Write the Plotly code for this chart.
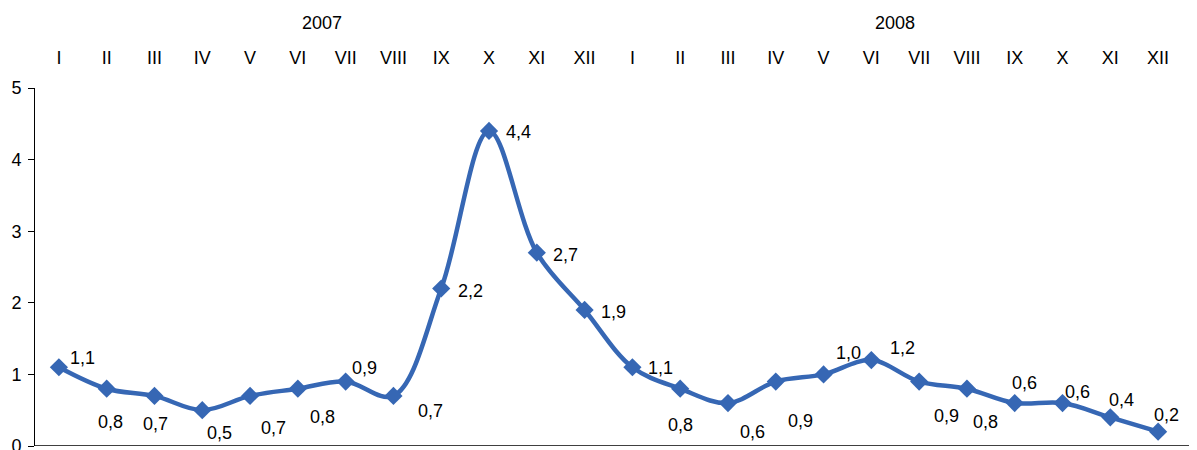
import plotly.graph_objects as go

months = ["I", "II", "III", "IV", "V", "VI", "VII", "VIII", "IX", "X", "XI", "XII"]
years = ["2007", "2008"]
values_2007 = [1.1, 0.8, 0.7, 0.5, 0.7, 0.8, 0.9, 0.7, 2.2, 4.4, 2.7, 1.9]
values_2008 = [1.1, 0.8, 0.6, 0.9, 1.0, 1.2, 0.9, 0.8, 0.6, 0.6, 0.4, 0.2]
y_ticks = [0, 1, 2, 3, 4, 5]

values = values_2007 + values_2008
tick_labels = months + months
xs = list(range(len(values)))

# label pixel offsets (styling), per point: (dx, dy down)
label_offsets = [
    (24, -9), (4, 33), (1, 28), (17, 23), (23, 32), (25, 28), (19, -14), (37, 15),
    (29, 3), (29, 1), (29, 2), (29, 2), (28, 1), (0, 36), (25, 29), (25, 39),
    (25, -21), (31, -12), (27, 34), (19, 33), (10, -20), (15, -11), (11, -17), (8, -17),
]

color = "#3667B4"
font = dict(family="Arial", size=18, color="#000000")

fig = go.Figure()
fig.add_trace(go.Scatter(
    x=xs, y=values, mode="lines+markers",
    line=dict(color=color, width=4.5, shape="spline", smoothing=1.0),
    marker=dict(symbol="diamond", size=14, color=color),
    hoverinfo="skip", showlegend=False, cliponaxis=False,
))

annotations = []
for i, v in enumerate(values):
    dx, dy = label_offsets[i]
    annotations.append(dict(
        x=xs[i], y=v, xref="x", yref="y", text=f"{v:.1f}".replace(".", ","),
        showarrow=False, xshift=dx, yshift=-dy, font=font,
    ))
for k, yr in enumerate(years):
    annotations.append(dict(
        x=k * 12 + 5.5, y=1, xref="x", yref="paper", yshift=65, yanchor="middle",
        text=yr, showarrow=False, font=font,
    ))

# page body has an 8px margin, so the figure is 8px smaller and its margins shifted
fig.update_layout(
    width=1189, height=442,
    margin=dict(l=27, r=15, t=80, b=4, autoexpand=False),
    paper_bgcolor="white", plot_bgcolor="white",
    font=font,
    annotations=annotations,
    xaxis=dict(
        side="top", tickmode="array", tickvals=xs, ticktext=tick_labels,
        range=[-0.5, 23.5], showgrid=False, zeroline=False, showline=False,
        ticks="", ticklabelstandoff=19, tickfont=font, automargin=False,
    ),
    yaxis=dict(
        range=[0, 5], tickvals=y_ticks, ticktext=[str(t) for t in y_ticks],
        showgrid=False, zeroline=False, showline=True, linecolor="#000000", linewidth=1,
        ticks="outside", ticklen=6, tickcolor="#000000", tickfont=font, automargin=False,
        ticklabelstandoff=3, ticklabeloverflow="allow",
    ),
    shapes=[dict(type="line", xref="paper", yref="y", x0=0, x1=1.02, y0=0, y1=0,
                 line=dict(color="#000000", width=1.5))],
)

fig.write_html("out.html")
